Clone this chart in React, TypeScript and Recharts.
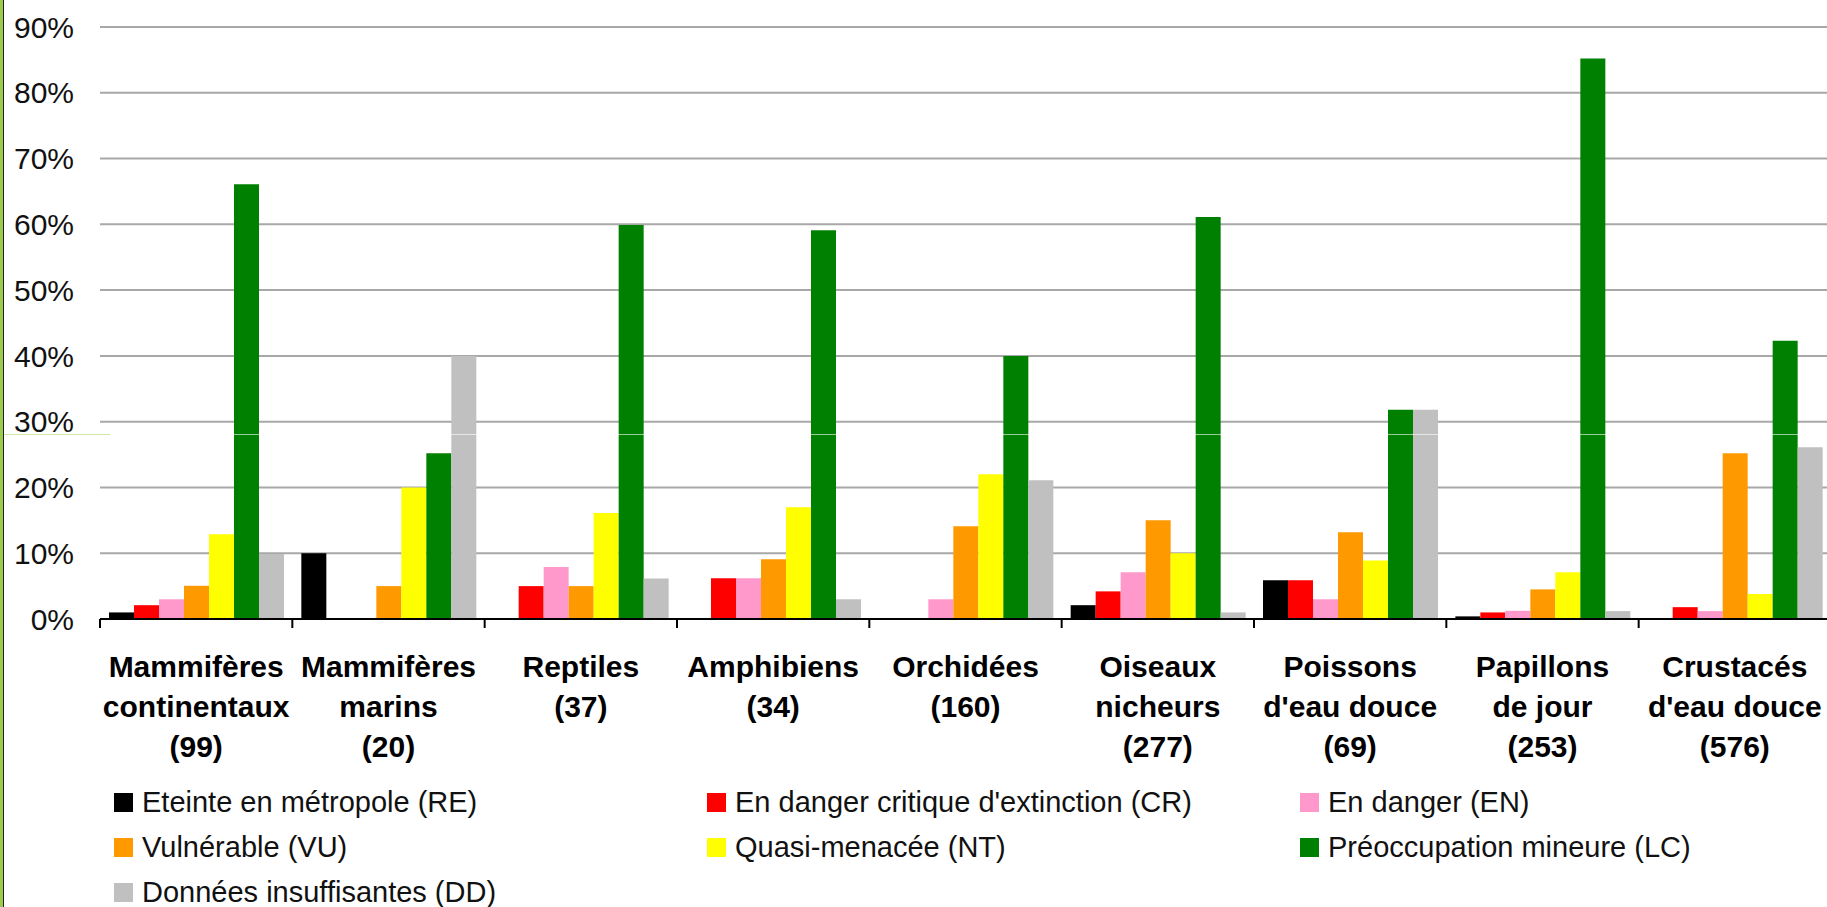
import React from "react";
import { BarChart, Bar, XAxis, YAxis, CartesianGrid, Legend } from "recharts";

// ---- data ----
const categoryLines: string[][] = [
  ["Mammifères", "continentaux", "(99)"],
  ["Mammifères", "marins", "(20)"],
  ["Reptiles", "(37)"],
  ["Amphibiens", "(34)"],
  ["Orchidées", "(160)"],
  ["Oiseaux", "nicheurs", "(277)"],
  ["Poissons", "d'eau douce", "(69)"],
  ["Papillons", "de jour", "(253)"],
  ["Crustacés", "d'eau douce", "(576)"],
];
const categories = categoryLines.map((l) => l.join(" "));

const re = [1.0, 10.0, 0, 0, 0, 2.1, 5.9, 0.4, 0];
const cr = [2.1, 0, 5.0, 6.2, 0, 4.2, 5.9, 1.0, 1.8];
const en = [3.0, 0, 7.9, 6.2, 3.0, 7.1, 3.0, 1.25, 1.2];
const vu = [5.05, 5.0, 5.0, 9.1, 14.1, 15.0, 13.2, 4.5, 25.2];
const nt = [12.9, 20.0, 16.1, 17.0, 22.0, 10.0, 8.9, 7.1, 3.8];
const lc = [66.1, 25.2, 59.9, 59.1, 40.0, 61.1, 31.8, 85.2, 42.3];
const dd = [9.9, 40.0, 6.15, 3.0, 21.1, 1.0, 31.8, 1.2, 26.1];

const yTicks = [0, 10, 20, 30, 40, 50, 60, 70, 80, 90];

const seriesKeys = ["re", "cr", "en", "vu", "nt", "lc", "dd"];
const seriesNames = [
  "Eteinte en métropole (RE)",
  "En danger critique d'extinction (CR)",
  "En danger (EN)",
  "Vulnérable (VU)",
  "Quasi-menacée (NT)",
  "Préoccupation mineure (LC)",
  "Données insuffisantes (DD)",
];
const seriesColors = ["#000000", "#FF0000", "#FF99CC", "#FF9900", "#FFFF00", "#008000", "#C0C0C0"];
const seriesValues = [re, cr, en, vu, nt, lc, dd];

const data = categories.map((name, i) => {
  const row: Record<string, any> = { name };
  seriesKeys.forEach((k, s) => {
    row[k] = seriesValues[s][i];
  });
  return row;
});

// ---- layout ----
const CHART_W = 1831;
const CHART_H = 907;
const YAXIS_W = 100;
const MARGIN = { top: 27, right: 0, left: 0, bottom: 148 };
const XAXIS_H = 140;
const BAND = (CHART_W - MARGIN.left - MARGIN.right - YAXIS_W) / categories.length;
const FONT = "Arial, 'Liberation Sans', sans-serif";

const CatTick = (props: any) => {
  const { x, y, payload } = props;
  const idx = categories.indexOf(payload.value);
  const lines = idx >= 0 ? categoryLines[idx] : [String(payload.value)];
  return (
    <g>
      <line x1={x - BAND / 2} x2={x - BAND / 2} y1={y} y2={y + 9} stroke="#000" strokeWidth={2} />
      <text
        x={x}
        y={y}
        textAnchor="middle"
        fontFamily={FONT}
        fontWeight="bold"
        fontSize={30}
        fill="#000"
      >
        {lines.map((l, i) => (
          <tspan key={i} x={x} y={y + 58 + i * 40}>
            {l}
          </tspan>
        ))}
      </text>
    </g>
  );
};

const LegendContent = () => (
  <div style={{ position: "relative", height: 0, width: 0 }}>
    {seriesNames.map((n, i) => {
      const col = i % 3;
      const row = Math.floor(i / 3);
      return (
        <div
          key={n}
          style={{
            position: "absolute",
            left: 114 + col * 593,
            top: 793 + row * 45,
            height: 19,
            display: "flex",
            alignItems: "center",
            whiteSpace: "nowrap",
            fontFamily: FONT,
            fontSize: 29,
            color: "#111",
          }}
        >
          <span
            style={{
              display: "inline-block",
              width: 19,
              height: 19,
              background: seriesColors[i],
              marginRight: 9,
            }}
          />
          <span style={{ lineHeight: "19px" }}>{n}</span>
        </div>
      );
    })}
  </div>
);

export default function App() {
  return (
    <div
      style={{
        position: "absolute",
        left: 0,
        top: 0,
        width: 1827,
        height: 907,
        overflow: "hidden",
        background: "#fff",
      }}
    >
      <BarChart
        width={CHART_W}
        height={CHART_H}
        data={data}
        margin={MARGIN}
        barGap={0}
        barSize={25}
      >
        <CartesianGrid vertical={false} stroke="#a8a8a8" strokeWidth={2} />
        <XAxis
          dataKey="name"
          interval={0}
          height={XAXIS_H}
          axisLine={{ stroke: "#000", strokeWidth: 2 }}
          tickLine={false}
          tickSize={0}
          tickMargin={0}
          tick={(p: any) => <CatTick {...p} />}
        />
        <YAxis
          width={YAXIS_W}
          domain={[0, 90]}
          ticks={yTicks}
          interval={0}
          axisLine={false}
          tickLine={false}
          tickSize={0}
          tickMargin={26}
          tickFormatter={(v: number) => `${v}%`}
          tick={{ fontFamily: FONT, fontSize: 30, fill: "#111" }}
        />
        {seriesKeys.map((k, i) => (
          <Bar
            key={k}
            dataKey={k}
            name={seriesNames[i]}
            fill={seriesColors[i]}
            isAnimationActive={false}
          />
        ))}
        <Legend
          content={() => <LegendContent />}
          wrapperStyle={{ position: "absolute", left: 0, top: 0, width: 0, height: 0 }}
        />
      </BarChart>
      {/* left frame border */}
      <div
        style={{
          position: "absolute",
          left: 0,
          top: 0,
          width: 3,
          height: 907,
          background: "#9BCB4C",
          borderRight: "1px solid #222",
        }}
      />
      {/* faint scan line */}
      <div
        style={{
          position: "absolute",
          left: 4,
          top: 434,
          width: 1823,
          height: 1,
          background: "rgba(255,255,255,0.6)",
        }}
      />
      <div
        style={{
          position: "absolute",
          left: 4,
          top: 434,
          width: 106,
          height: 1,
          background: "#cfe8a8",
        }}
      />
    </div>
  );
}
